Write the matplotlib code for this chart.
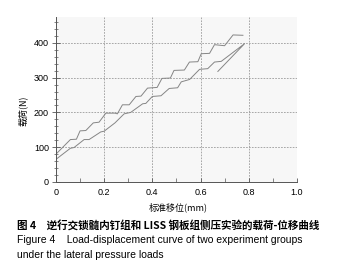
import matplotlib
matplotlib.use("Agg")
import matplotlib.pyplot as plt
from matplotlib.ticker import MultipleLocator

plt.rcParams['font.family'] = ['Liberation Sans', 'Noto Sans CJK SC', 'DejaVu Sans']

# --- données ---
# groupe 1 (courbe du haut, en escalier)
x_upper = [0.0, 0.06, 0.085, 0.10, 0.124, 0.155, 0.179, 0.207, 0.245, 0.255,
           0.276, 0.304, 0.332, 0.353, 0.38, 0.42, 0.44, 0.475, 0.49, 0.533,
           0.554, 0.589, 0.603, 0.6375, 0.658, 0.70, 0.735, 0.776]
y_upper = [80, 122, 123, 147, 148, 170, 172, 198, 198, 196,
           222, 222, 246, 247, 270, 272, 298, 299, 321, 322,
           345, 346, 369, 370, 395, 392, 423, 422]

# groupe 2 (courbe du bas + décharge)
x_lower = [0.0, 0.06, 0.075, 0.117, 0.1375, 0.186, 0.20, 0.245, 0.283, 0.31,
           0.36, 0.373, 0.40, 0.436, 0.47, 0.505, 0.52, 0.555, 0.596, 0.63,
           0.658, 0.686, 0.783, 0.672]
y_lower = [65, 97, 99, 122, 122, 144, 146, 170, 196, 200,
           225, 226, 246, 248, 269, 271, 288, 295, 324, 326,
           345, 347, 398, 318]

xticks = [0, 0.2, 0.4, 0.6, 0.8, 1.0]
xtick_labels = ['0', '0.2', '0.4', '0.6', '0.8', '1.0']
yticks = [0, 100, 200, 300, 400]

fig = plt.figure(figsize=(3.37, 2.72), dpi=100)
ax = fig.add_axes([0.166, 0.331, 0.715, 0.607])
ax.set_facecolor('#f7f7f7')

ax.plot(x_upper, y_upper, color='#858585', lw=0.7)
ax.plot(x_lower, y_lower, color='#858585', lw=0.7)

ax.set_xlim(0, 1.0)
ax.set_ylim(0, 475)
ax.set_xticks(xticks)
ax.set_xticklabels(xtick_labels)
ax.set_yticks(yticks)
ax.xaxis.set_minor_locator(MultipleLocator(0.1))
ax.yaxis.set_minor_locator(MultipleLocator(20))

ax.grid(True, which='major', color='#9a9a9a', ls=(0, (2, 1.5)), lw=0.6)
ax.tick_params(axis='y', which='major', direction='inout', length=6, width=0.6,
               color='#555555', labelsize=6.5, pad=2)
ax.tick_params(axis='y', which='minor', direction='inout', length=3, width=0.5,
               color='#555555')
ax.tick_params(axis='x', which='major', direction='in', length=3, width=0.6,
               color='#555555', labelsize=6.5, pad=4)
ax.tick_params(axis='x', which='minor', direction='in', length=3, width=0.5,
               color='#555555')

ax.spines['top'].set_visible(False)
ax.spines['right'].set_visible(False)
for s in ['left', 'bottom']:
    ax.spines[s].set_color('#555555')
    ax.spines[s].set_linewidth(0.7)

fig.text(178 / 337, 1 - 207 / 272, '标准移位(mm)', ha='center', va='center',
         fontsize=6.5, family=['Noto Sans CJK SC', 'DejaVu Sans'])
fig.text(23 / 337, 1 - 111 / 272, '载荷(N)', ha='center', va='center',
         rotation=90, fontsize=6.5, family=['Noto Sans CJK SC', 'DejaVu Sans'])

fig.text(17 / 337, 1 - 225 / 272,
         '图 4\u3000逆行交锁髓内钉组和 LISS 钢板组侧压实验的载荷-位移曲线',
         ha='left', va='center', fontsize=7.6, fontweight='bold',
         family=['Noto Sans CJK SC', 'DejaVu Sans'])
fig.text(17 / 337, 1 - 240 / 272,
         'Figure 4    Load-displacement curve of two experiment groups',
         ha='left', va='center', fontsize=7.5)
fig.text(17 / 337, 1 - 255 / 272, 'under the lateral pressure loads',
         ha='left', va='center', fontsize=7.5)

fig.savefig('out.png', dpi=100)
